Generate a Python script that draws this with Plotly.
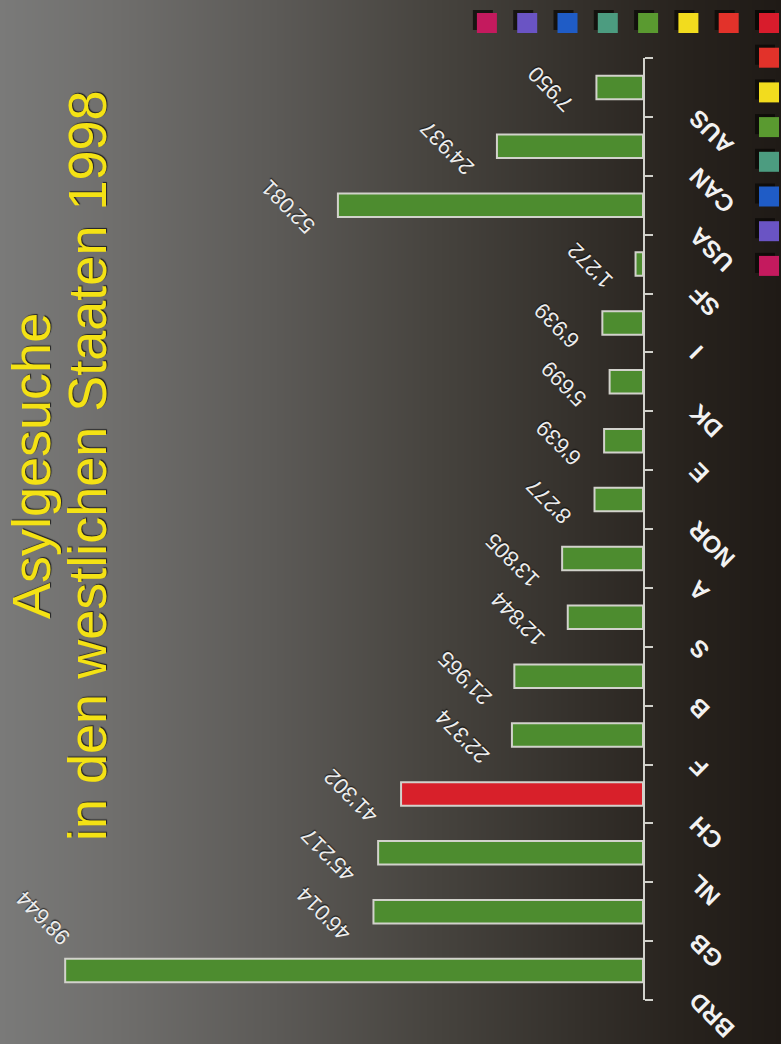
import plotly.graph_objects as go

# Asylum requests in Western countries, 1998
countries = ["BRD", "GB", "NL", "CH", "F", "B", "S", "A", "NOR",
             "E", "DK", "I", "SF", "USA", "CAN", "AUS"]
requests = [98644, 46014, 45217, 41302, 22374, 21965, 12844, 13805, 8277,
            6639, 5699, 6939, 1272, 52081, 24937, 7950]
highlight = "CH"

title_lines = ["Asylgesuche", "in den westlichen Staaten 1998"]

# decorative colour key along the top and right edges
key_colors = ["#d81c2c", "#e2322a", "#f2dc1e", "#5a9a30",
              "#4c9c80", "#1f5cc6", "#6a54c4", "#c41a5e"]

# background shading, left to right
bg_pos = [0.0, 0.15, 0.35, 0.55, 0.75, 0.88, 1.0]
bg_cols = ["#7a7a79", "#6f6e6c", "#5c5a57", "#47443f", "#332f2a", "#27221d", "#1f1a16"]

W, H = 781, 1044
GREEN, RED = "#4d8c2f", "#d8202a"
OUTLINE = "#d2d2cc"


def px_x(p):
    return p / W


def px_y(p):
    return 1 - p / H


def fmt(v):
    return f"{v:,}".replace(",", "'")


fig = go.Figure()

# background gradient on a full-page helper subplot
fig.add_trace(go.Heatmap(
    x=bg_pos, y=[0, 1], z=[bg_pos, bg_pos],
    colorscale=[[p, c] for p, c in zip(bg_pos, bg_cols)],
    zsmooth="best", showscale=False, hoverinfo="skip",
    xaxis="x", yaxis="y",
))

bar_colors = [RED if c == highlight else GREEN for c in countries]
fig.add_trace(go.Bar(
    x=requests, y=countries, orientation="h",
    marker=dict(color=bar_colors, line=dict(color=OUTLINE, width=2)),
    width=0.4, xaxis="x2", yaxis="y2", hoverinfo="skip",
))

value_font = dict(family="Liberation Sans", size=22, color="#ececec",
                  shadow="1px 1px 1px rgba(0,0,0,0.6)")
annotations = []
vmax = max(requests)
for c, v in zip(countries, requests):
    if v == vmax:
        annotations.append(dict(
            x=v, y=c, xref="x2", yref="y2", text=fmt(v), showarrow=False,
            textangle=-135, xanchor="right", yanchor="bottom",
            xshift=13, yshift=18, font=value_font,
        ))
    else:
        annotations.append(dict(
            x=v, y=c, xref="x2", yref="y2", text=fmt(v), showarrow=False,
            textangle=-135, xanchor="right", yanchor="middle",
            xshift=-15, yshift=-2, font=value_font,
        ))
    annotations.append(dict(
        x=0, y=c, xref="x2", yref="y2", text=f"<b>{c}</b>", showarrow=False,
        textangle=-135, xanchor="left", yanchor="top",
        xshift=38, yshift=-14,
        font=dict(family="Liberation Sans", size=24, color="#f2f2f2"),
    ))

# title, rotated to read upwards
for line, cx in zip(title_lines, [31, 87]):
    annotations.append(dict(
        x=px_x(cx), y=px_y(466), xref="paper", yref="paper", text=line,
        showarrow=False, textangle=-90, xanchor="center", yanchor="middle",
        font=dict(family="Liberation Sans", size=54, color="#f4e214",
                  shadow="1px 1px 1px #222"),
    ))

# colour key squares
shapes = []
size = 20
for i, col in enumerate(key_colors):
    for cx, cy in [(769 - 40.3 * i, 23), (769, 23 + 34.7 * i)]:
        shapes.append(dict(
            type="rect", xref="paper", yref="paper", layer="above",
            x0=px_x(cx - size / 2 - 4), x1=px_x(cx + size / 2 - 4),
            y0=px_y(cy + size / 2 - 3), y1=px_y(cy - size / 2 - 3),
            fillcolor="rgba(10,8,6,0.75)", line=dict(width=0),
        ))
        shapes.append(dict(
            type="rect", xref="paper", yref="paper", layer="above",
            x0=px_x(cx - size / 2), x1=px_x(cx + size / 2),
            y0=px_y(cy + size / 2), y1=px_y(cy - size / 2),
            fillcolor=col, line=dict(width=0),
        ))

fig.update_layout(
    width=W, height=H, autosize=False,
    margin=dict(l=0, r=0, t=0, b=0),
    paper_bgcolor="#3a3733", plot_bgcolor="rgba(0,0,0,0)",
    showlegend=False,
    xaxis=dict(domain=[0, 1], range=[0, 1], visible=False, fixedrange=True),
    yaxis=dict(domain=[0, 1], range=[0, 1], visible=False, fixedrange=True),
    xaxis2=dict(domain=[0, px_x(643)], range=[109770, 0], anchor="y2",
                visible=False),
    yaxis2=dict(domain=[px_y(1000), px_y(58)], anchor="x2", side="right",
                type="category", categoryorder="array", categoryarray=countries,
                range=[-0.5, len(countries) - 0.5],
                showline=True, linecolor=OUTLINE, linewidth=2,
                ticks="outside", ticklen=8, tickwidth=2, tickcolor=OUTLINE,
                tickson="boundaries", showticklabels=False,
                showgrid=False, zeroline=False),
    annotations=annotations,
    shapes=shapes,
)

fig.write_html("out.html")
